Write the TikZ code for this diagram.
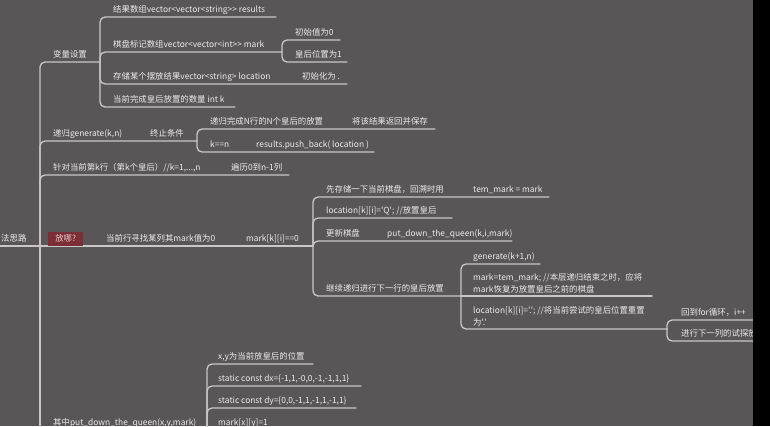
\documentclass[tikz,border=0pt]{standalone}
\usepackage{fontspec}
\newfontfamily\mmfont{Noto Sans CJK SC}
\definecolor{bgc}{HTML}{5A5657}
\definecolor{linec}{HTML}{CBC7C7}
\definecolor{txtc}{HTML}{EDEBEB}
\definecolor{tagbg}{HTML}{7B2E36}
\definecolor{tagtx}{HTML}{E5C9CC}
\tikzset{
  txt/.style={anchor=base west, inner sep=0pt, text=txtc, align=left},
  tag/.style={anchor=south west, fill=tagbg, text=tagtx, minimum width=35pt, minimum height=14pt, inner sep=1pt},
  br/.style={draw=linec, line width=1.3pt, rounded corners=5pt},
}
\begin{document}
\begin{tikzpicture}[x=1pt, y=-1pt, line join=round, line cap=round, font=\mmfont\fontsize{8.4}{12}\selectfont]
	\fill[bgc] (0,0) rectangle (770,426);
	\useasboundingbox (0,0) rectangle (770,426);
	\clip (0,0) rectangle (770,426);
	% junctions and line ends
	\coordinate (r0) at (0,246);   \coordinate (r) at (40,246);
	\coordinate (v) at (100,62);   \coordinate (g) at (197,141);
	\coordinate (p) at (289,175);  \coordinate (f) at (313,246);
	\coordinate (q) at (207,430);  \coordinate (rb) at (40,440);
	\coordinate (v1) at (276,17);  \coordinate (v2) at (282,52);
	\coordinate (v3) at (347,84);  \coordinate (v4) at (235,107);
	\coordinate (v21) at (340,40); \coordinate (v22) at (347,62);
	\coordinate (g1) at (435,129); \coordinate (g2) at (374,152);
	\coordinate (f1) at (549,197); \coordinate (f2) at (452,218);
	\coordinate (f3) at (512,241); \coordinate (f4) at (461,296);
	\coordinate (f41) at (540,264); \coordinate (f42) at (652,296);
	\coordinate (f43) at (667,329);
	\coordinate (f431) at (760,320); \coordinate (f432) at (760,341);
	\coordinate (q1) at (313,364); \coordinate (q2) at (361,386);
	\coordinate (q3) at (356,408); \coordinate (q4) at (330,430);
	% branches
	\draw[br] (r0)--(f) (r)--(rb);
	\foreach \c in {v,g,p,q} \draw[br] (r)|-(\c);
	\foreach \c in {v1,v2,v3,v4} \draw[br] (v)|-(\c);
	\foreach \c in {v21,v22} \draw[br] (v2)|-(\c);
	\foreach \c in {g1,g2} \draw[br] (g)|-(\c);
	\foreach \c in {f1,f2,f3,f4} \draw[br] (f)|-(\c);
	\foreach \c in {f41,f43} \draw[br] (f4)|-(\c);
	\draw[br] (f4)--(f42);
	\foreach \c in {f431,f432} \draw[br] (f43)|-(\c);
	\foreach \c in {q1,q2,q3} \draw[br] (q)|-(\c);
	\draw[br] (q)--(q4);
	% texts
	\node[txt] (root) at (1,241) {法思路};
	\node[txt] (bl) at (53,57) {变量设置};
	\node[txt] (res) at (113,12) {结果数组vector<vector<string>> results};
	\node[txt] (mk) at (113,47) {棋盘标记数组vector<vector<int>> mark};
	\node[txt] (mk0) at (295,35) {初始值为0};
	\node[txt] (mk1) at (295,57) {皇后位置为1};
	\node[txt] (loc) at (113,79) {存储某个摆放结果vector<string> location};
	\node[txt] (loc0) at (302,79) {初始化为 .};
	\node[txt] (cnt) at (113,102) {当前完成皇后放置的数量 int k};
	\node[txt] (gen) at (53,136) {递归generate(k,n)};
	\node[txt] (stop) at (150,136) {终止条件};
	\node[txt] (st1) at (210,124) {递归完成N行的N个皇后的放置};
	\node[txt] (st1a) at (352,124) {将该结果返回并保存};
	\node[txt] (st2) at (210,147) {k==n};
	\node[txt] (st2a) at (256,147) {results.push\_back( location )};
	\node[txt] (row) at (53,170) {针对当前第k行（第k个皇后）//k=1,...,n};
	\node[txt] (col) at (231,170) {遍历0到n-1列};
	\node[tag] (fang) at (48,246) {放哪?};
	\node[txt] (zero) at (106,241) {当前行寻找某列其mark值为0};
	\node[txt] (mz) at (246,241) {mark[k][i]==0};
	\node[txt] (sv) at (326,192) {先存储一下当前棋盘，回溯时用};
	\node[txt] (sva) at (473,192) {tem\_mark = mark};
	\node[txt] (pq) at (326,213) {location[k][i]='Q'; //放置皇后};
	\node[txt] (up) at (326,236) {更新棋盘};
	\node[txt] (upa) at (387,236) {put\_down\_the\_queen(k,i,mark)};
	\node[txt] (nx) at (326,291) {继续递归进行下一行的皇后放置};
	\node[txt] (nx1) at (473,259) {generate(k+1,n)};
	\node[txt] (nx2) at (473,292) {mark=tem\_mark; //本层递归结束之时，应将\\mark恢复为放置皇后之前的棋盘};
	\node[txt] (nx3) at (473,325) {location[k][i]='.'; //将当前尝试的皇后位置重置\\为'.'};
	\node[txt] (back) at (681,315) {回到for循环，i++};
	\node[txt] (try) at (681,336) {进行下一列的试探放置};
	\node[txt] (qn) at (53,425) {其中put\_down\_the\_queen(x,y,mark)};
	\node[txt] (xy) at (218,359) {x,y为当前放皇后的位置};
	\node[txt] (dx) at (218,381) {static const dx=\{-1,1,-0,0,-1,-1,1,1\}};
	\node[txt] (dy) at (218,403) {static const dy=\{0,0,-1,1,-1,1,-1,1\}};
	\node[txt] (mxy) at (218,425) {mark[x][y]=1};
	\fill[black] (753,0) rectangle (770,426);
\end{tikzpicture}
\end{document}
